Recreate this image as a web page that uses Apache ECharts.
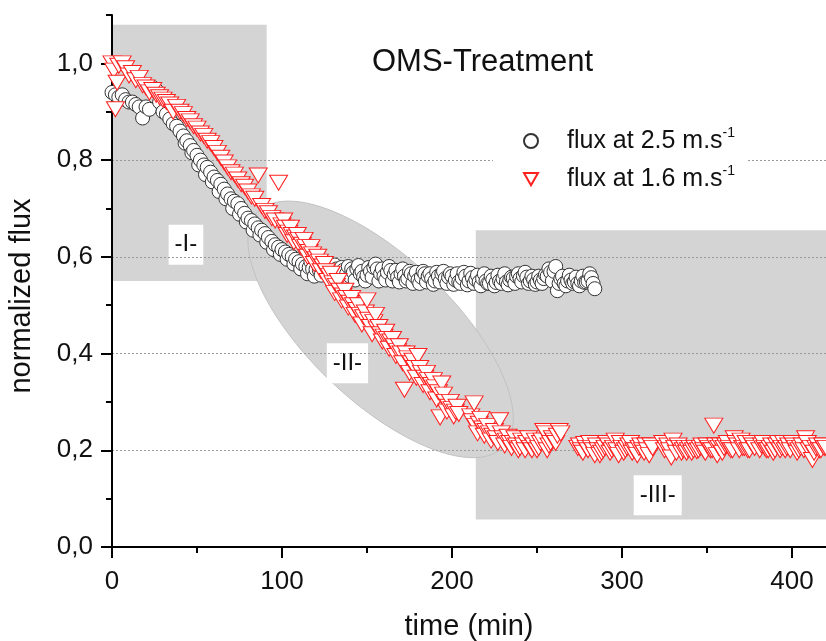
<!DOCTYPE html>
<html>
<head>
<meta charset="utf-8">
<title>OMS-Treatment</title>
<script src="https://cdn.jsdelivr.net/npm/echarts@6/dist/echarts.min.js"></script>
<style>
  html, body { margin: 0; padding: 0; background: #fff; }
  #chart { width: 826px; height: 641px; }
</style>
</head>
<body>
<div id="chart"></div>
<script>
const FONT = '"Liberation Sans", Arial, sans-serif';

// flux at 2.5 m/s : [time (min), normalized flux]
const flux25 = [
  [0, 0.94], [2, 0.935], [4, 0.93], [6, 0.935], [8, 0.925], [10, 0.92], [12, 0.92], [14, 0.915],
  [16, 0.91], [18, 0.887], [20, 0.91], [22, 0.905], [24, 0.95], [26, 0.945], [28, 0.92], [30, 0.9],
  [32, 0.895], [34, 0.885], [36, 0.875], [38, 0.87], [40, 0.86], [42, 0.85], [44, 0.84], [46, 0.83],
  [48, 0.82], [50, 0.81], [52, 0.8], [54, 0.79], [56, 0.785], [58, 0.775], [60, 0.765], [62, 0.758],
  [64, 0.75], [66, 0.74], [68, 0.73], [70, 0.72], [72, 0.715], [74, 0.71], [76, 0.7], [78, 0.69],
  [80, 0.68], [82, 0.675], [84, 0.668], [86, 0.66], [88, 0.655], [90, 0.648], [92, 0.64], [94, 0.632],
  [96, 0.625], [98, 0.62], [100, 0.615], [102, 0.61], [104, 0.605], [106, 0.6], [108, 0.595], [110, 0.59],
  [112, 0.585], [114, 0.58], [116, 0.578], [118, 0.575], [120, 0.574], [122, 0.572], [124, 0.58], [126, 0.57],
  [128, 0.565], [130, 0.57], [132, 0.575], [134, 0.568], [136, 0.572], [138, 0.565], [140, 0.56], [142, 0.568],
  [144, 0.575], [146, 0.565], [148, 0.558], [150, 0.562], [152, 0.57], [154, 0.578], [156, 0.575], [158, 0.565],
  [160, 0.56], [162, 0.568], [164, 0.572], [166, 0.563], [168, 0.558], [170, 0.565], [172, 0.56], [174, 0.555],
  [176, 0.565], [178, 0.56], [180, 0.552], [182, 0.558], [184, 0.565], [186, 0.56], [188, 0.555], [190, 0.55],
  [192, 0.56], [194, 0.565], [196, 0.555], [198, 0.558], [200, 0.56], [202, 0.552], [204, 0.548], [206, 0.556],
  [208, 0.56], [210, 0.55], [212, 0.557], [214, 0.553], [216, 0.548], [218, 0.555], [220, 0.55], [222, 0.545],
  [224, 0.553], [226, 0.547], [228, 0.55], [230, 0.555], [232, 0.548], [234, 0.552], [236, 0.556], [238, 0.56],
  [240, 0.555], [242, 0.561], [244, 0.558], [246, 0.55], [248, 0.553], [250, 0.548], [252, 0.552], [254, 0.555],
  [256, 0.56], [258, 0.568], [260, 0.57], [262, 0.53], [264, 0.555], [266, 0.545], [268, 0.55], [270, 0.552],
  [272, 0.548], [274, 0.545], [276, 0.55], [278, 0.547], [280, 0.55], [282, 0.557], [284, 0.534]
];
// the scatter around the trend (odd minutes)
const flux25Odd = [
  [43, 0.835], [47, 0.815], [51, 0.79], [55, 0.77], [59, 0.755], [63, 0.735], [67, 0.72], [71, 0.7],
  [75, 0.688], [79, 0.672], [83, 0.655], [87, 0.645], [91, 0.63], [95, 0.615], [99, 0.605], [103, 0.595],
  [107, 0.585], [111, 0.575], [115, 0.565], [117, 0.59], [119, 0.56], [121, 0.585], [123, 0.562], [125, 0.588],
  [127, 0.575], [129, 0.555], [131, 0.583], [133, 0.56], [135, 0.578], [137, 0.555], [139, 0.58], [141, 0.575],
  [143, 0.552], [145, 0.582], [147, 0.57], [149, 0.55], [151, 0.578], [153, 0.558], [155, 0.585], [157, 0.55],
  [159, 0.575], [161, 0.552], [163, 0.58], [165, 0.55], [167, 0.572], [169, 0.548], [171, 0.575], [173, 0.55],
  [175, 0.57], [177, 0.545], [179, 0.568], [181, 0.545], [183, 0.57], [185, 0.548], [187, 0.565], [189, 0.543],
  [191, 0.568], [193, 0.548], [195, 0.57], [197, 0.545], [199, 0.565], [201, 0.543], [203, 0.565], [205, 0.545],
  [207, 0.568], [209, 0.542], [211, 0.566], [213, 0.545], [215, 0.562], [217, 0.54], [219, 0.565], [221, 0.545],
  [223, 0.56], [225, 0.54], [227, 0.562], [229, 0.545], [231, 0.565], [233, 0.542], [235, 0.558], [237, 0.545],
  [239, 0.565], [241, 0.548], [243, 0.568], [245, 0.545], [247, 0.56], [249, 0.543], [251, 0.56], [253, 0.545],
  [255, 0.563], [257, 0.575], [259, 0.55], [261, 0.58], [263, 0.545], [265, 0.56], [267, 0.54], [269, 0.562],
  [271, 0.545], [273, 0.558], [275, 0.54], [277, 0.56], [279, 0.548], [281, 0.565], [283, 0.545]
];

// flux at 1.6 m/s : [time (min), normalized flux]
const flux16 = [
  [0, 1.0], [1, 0.985], [2, 0.905], [3, 0.96], [4, 0.995], [6, 1.0], [8, 0.99], [10, 0.975],
  [12, 0.98], [14, 0.965], [16, 0.97], [18, 0.955], [20, 0.95], [22, 0.94], [24, 0.945], [26, 0.935],
  [28, 0.93], [30, 0.925], [32, 0.92], [34, 0.915], [36, 0.9], [38, 0.91], [40, 0.9], [42, 0.895],
  [44, 0.885], [46, 0.88], [48, 0.87], [50, 0.865], [52, 0.855], [54, 0.85], [56, 0.84], [58, 0.835],
  [60, 0.825], [62, 0.815], [64, 0.805], [66, 0.795], [68, 0.785], [70, 0.775], [72, 0.77], [74, 0.76],
  [76, 0.75], [78, 0.745], [80, 0.735], [82, 0.725], [84, 0.72], [86, 0.768], [88, 0.705], [90, 0.695],
  [92, 0.69], [94, 0.68], [96, 0.675], [98, 0.753], [100, 0.665], [102, 0.66], [104, 0.65], [106, 0.645],
  [108, 0.64], [110, 0.635], [112, 0.625], [114, 0.62], [116, 0.61], [118, 0.605], [120, 0.595], [122, 0.59],
  [124, 0.58], [126, 0.57], [128, 0.56], [130, 0.545], [132, 0.54], [134, 0.53], [136, 0.52], [138, 0.515],
  [140, 0.505], [142, 0.5], [144, 0.49], [146, 0.48], [148, 0.475], [150, 0.51], [152, 0.455], [154, 0.465],
  [156, 0.45], [158, 0.44], [160, 0.435], [162, 0.43], [164, 0.425], [166, 0.415], [168, 0.405], [170, 0.4],
  [172, 0.325], [174, 0.39], [176, 0.38], [178, 0.37], [180, 0.395], [182, 0.36], [184, 0.35], [186, 0.345],
  [188, 0.335], [190, 0.33], [192, 0.32], [194, 0.338], [196, 0.3], [198, 0.29], [200, 0.285], [202, 0.28],
  [204, 0.275], [212, 0.26], [213, 0.297], [214, 0.25], [216, 0.255], [218, 0.245], [220, 0.24], [222, 0.235],
  [224, 0.23], [226, 0.225], [228, 0.262], [230, 0.225], [232, 0.22], [234, 0.215], [236, 0.215], [238, 0.21],
  [240, 0.205], [242, 0.21], [244, 0.215], [246, 0.205], [248, 0.21], [250, 0.2], [252, 0.215], [254, 0.24],
  [256, 0.2], [258, 0.215], [260, 0.22], [262, 0.23], [264, 0.235],
  [274, 0.205], [276, 0.2], [278, 0.213], [280, 0.2], [282, 0.205], [284, 0.19], [286, 0.2], [288, 0.195],
  [290, 0.205], [292, 0.21], [294, 0.2], [296, 0.22], [298, 0.19], [300, 0.205], [302, 0.2], [304, 0.21],
  [306, 0.195], [308, 0.2], [310, 0.205], [312, 0.2], [314, 0.21], [316, 0.19], [318, 0.205],
  [324, 0.215], [326, 0.205], [328, 0.2], [330, 0.22], [332, 0.195], [334, 0.205], [336, 0.2], [338, 0.195],
  [340, 0.205], [342, 0.2], [344, 0.198], [346, 0.205], [348, 0.2], [350, 0.21], [352, 0.2], [354, 0.251],
  [356, 0.19], [358, 0.21], [360, 0.205], [362, 0.215], [364, 0.2], [366, 0.225], [368, 0.21], [370, 0.22],
  [372, 0.205], [374, 0.2], [376, 0.215], [378, 0.205],
  [382, 0.21], [384, 0.205], [386, 0.2], [388, 0.21], [390, 0.2], [392, 0.215], [394, 0.205], [396, 0.2],
  [398, 0.21], [400, 0.215], [402, 0.205], [404, 0.2], [406, 0.21], [408, 0.225], [410, 0.2], [412, 0.18],
  [414, 0.205], [416, 0.2], [418, 0.21], [420, 0.205]
];
const flux16Odd = [
  [101, 0.675], [103, 0.645], [105, 0.66], [107, 0.63], [109, 0.645], [111, 0.62], [113, 0.635], [115, 0.6],
  [117, 0.62], [119, 0.585], [121, 0.6], [123, 0.57], [125, 0.585], [127, 0.55], [129, 0.565], [131, 0.525],
  [133, 0.55], [135, 0.51], [137, 0.53], [139, 0.495], [141, 0.515], [143, 0.48], [145, 0.5], [147, 0.46],
  [149, 0.485], [151, 0.47], [153, 0.44], [155, 0.48], [157, 0.455], [159, 0.425], [161, 0.445], [163, 0.41],
  [165, 0.43], [167, 0.395], [169, 0.415], [171, 0.38], [173, 0.4], [175, 0.36], [177, 0.385], [179, 0.35],
  [181, 0.37], [183, 0.335], [185, 0.36], [187, 0.32], [189, 0.345], [191, 0.305], [193, 0.268], [195, 0.315],
  [197, 0.28], [199, 0.3], [201, 0.27], [203, 0.29], [211, 0.27], [215, 0.235], [217, 0.265], [219, 0.23],
  [221, 0.25], [223, 0.22], [225, 0.24], [227, 0.215], [229, 0.235], [231, 0.21], [233, 0.228], [235, 0.205],
  [237, 0.225], [239, 0.2], [241, 0.22], [243, 0.2], [245, 0.225], [247, 0.2], [249, 0.22], [251, 0.205],
  [253, 0.22], [255, 0.235], [257, 0.21], [259, 0.225], [261, 0.215], [263, 0.24],
  [275, 0.21], [277, 0.195], [279, 0.205], [281, 0.215], [283, 0.2], [285, 0.21], [287, 0.19], [289, 0.2],
  [291, 0.215], [293, 0.195], [295, 0.205], [297, 0.2], [299, 0.215], [301, 0.195], [303, 0.205], [305, 0.215],
  [307, 0.2], [309, 0.19], [311, 0.21], [313, 0.195], [315, 0.2], [317, 0.21],
  [325, 0.2], [327, 0.21], [329, 0.185], [331, 0.205], [333, 0.21], [335, 0.195], [337, 0.205], [339, 0.2],
  [341, 0.195], [343, 0.205], [345, 0.2], [347, 0.21], [349, 0.195], [351, 0.205], [353, 0.2], [355, 0.21],
  [357, 0.205], [359, 0.195], [361, 0.21], [363, 0.205], [365, 0.2], [367, 0.215], [369, 0.2], [371, 0.205],
  [373, 0.215], [375, 0.2], [377, 0.21],
  [381, 0.2], [383, 0.215], [385, 0.2], [387, 0.205], [389, 0.195], [391, 0.21], [393, 0.2], [395, 0.215],
  [397, 0.205], [399, 0.2], [401, 0.21], [403, 0.195], [405, 0.205], [407, 0.2], [409, 0.215], [411, 0.205],
  [413, 0.195], [415, 0.21], [417, 0.2], [419, 0.205]
];

// axis ticks
const xMajor = [0, 100, 200, 300, 400];
const xMinor = [50, 150, 250, 350];
const yMajor = [0, 0.2, 0.4, 0.6, 0.8, 1.0];
const yMinor = [0.1, 0.3, 0.5, 0.7, 0.9, 1.1];

// shaded phases, in data units: [xFrom, yFrom, xTo, yTo]
const phaseI = [0, 0.55, 91, 1.08];
const phaseIII = [214, 0.057, 420, 0.655];
const phaseIICenter = [158, 0.45];
const phaseLabels = [['-I-', 43.5, 0.625], ['-II-', 138.5, 0.38], ['-III-', 321, 0.107]];

const GRAY = '#d4d4d4';
const TRI_DOWN = 'path://M0,0 L16,0 L8,14 Z';

function byTime(a, b) { return a[0] - b[0]; }

function renderPhases(params, api) {
  const children = [];
  [phaseI, phaseIII].forEach(function (b) {
    const p0 = api.coord([b[0], b[3]]);
    const p1 = api.coord([b[2], b[1]]);
    children.push({
      type: 'rect',
      shape: { x: p0[0], y: p0[1], width: p1[0] - p0[0], height: p1[1] - p0[1] },
      style: { fill: GRAY }
    });
  });
  // tilted ellipse for phase II
  const c = api.coord(phaseIICenter);
  const ra = 170, rb = 72, th = 43.6 * Math.PI / 180;
  const pts = [];
  for (let k = 0; k < 96; k++) {
    const f = 2 * Math.PI * k / 96;
    pts.push([
      c[0] + ra * Math.cos(f) * Math.cos(th) - rb * Math.sin(f) * Math.sin(th),
      c[1] + ra * Math.cos(f) * Math.sin(th) + rb * Math.sin(f) * Math.cos(th)
    ]);
  }
  children.push({
    type: 'polygon',
    shape: { points: pts },
    style: { fill: GRAY, stroke: '#c2c2c2', lineWidth: 1 }
  });
  phaseLabels.forEach(function (l) {
    const p = api.coord([l[1], l[2]]);
    children.push({
      type: 'text',
      x: p[0], y: p[1],
      style: {
        text: l[0], fontSize: 24, fontFamily: FONT, fill: '#111',
        align: 'center', verticalAlign: 'middle',
        backgroundColor: '#fff', padding: [8, 6]
      }
    });
  });
  return { type: 'group', children: children };
}

const tickLine = { color: '#000', width: 2 };
const labelStyle = { fontSize: 26, color: '#111', fontFamily: FONT };

const chart = echarts.init(document.getElementById('chart'));

const option = {
  animation: false,
  backgroundColor: '#fff',
  title: {
    text: 'OMS-Treatment',
    left: 357,
    top: 44,
    backgroundColor: '#fff',
    padding: [3, 14, 3, 15],
    textStyle: { fontSize: 31, fontWeight: 'normal', color: '#111', fontFamily: FONT }
  },
  legend: {
    orient: 'vertical',
    left: 493,
    top: 118,
    padding: [8, 12, 8, 30],
    backgroundColor: '#fff',
    itemWidth: 14,
    itemHeight: 14,
    itemGap: 10,
    selectedMode: false,
    data: ['flux at 2.5 m.s', 'flux at 1.6 m.s'],
    formatter: function (name) {
      return '{g|}{t|' + name + '}{s|-1}';
    },
    textStyle: {
      fontFamily: FONT,
      rich: {
        g: { width: 24 },
        t: { fontSize: 25, lineHeight: 30, color: '#111', fontFamily: FONT },
        s: { fontSize: 14, lineHeight: 30, color: '#111', fontFamily: FONT, verticalAlign: 'top', padding: [0, 0, 14, 0] }
      }
    }
  },
  grid: { left: 112, right: 0, top: 15, bottom: 94, containLabel: false, outerBoundsMode: 'none' },
  xAxis: [
    {
      type: 'value',
      min: 0,
      max: 420,
      interval: 100,
      z: 1,
      name: 'time (min)',
      nameLocation: 'middle',
      nameGap: 65,
      nameTextStyle: { fontSize: 29, color: '#111', fontFamily: FONT },
      axisLine: { lineStyle: tickLine },
      axisTick: { length: 11, lineStyle: tickLine, customValues: xMajor },
      axisLabel: Object.assign({ margin: 22, customValues: xMajor }, labelStyle),
      splitLine: { show: false }
    },
    {
      // minor ticks only
      type: 'value',
      min: 0,
      max: 420,
      position: 'bottom',
      z: 1,
      axisLine: { show: false },
      axisTick: { show: true, length: 6, lineStyle: tickLine, customValues: xMinor },
      axisLabel: { show: false },
      splitLine: { show: false }
    }
  ],
  yAxis: [
    {
      type: 'value',
      min: 0,
      max: 1.1,
      interval: 0.2,
      z: 1,
      name: 'normalized flux',
      nameLocation: 'middle',
      nameGap: 76,
      nameTextStyle: { fontSize: 29, color: '#111', fontFamily: FONT, padding: [0, 30, 0, 0] },
      axisLine: { show: true, lineStyle: tickLine },
      axisTick: { show: true, length: 11, lineStyle: tickLine, customValues: yMajor },
      axisLabel: Object.assign({
        margin: 19, customValues: yMajor,
        formatter: function (v) { return v.toFixed(1).replace('.', ','); }
      }, labelStyle),
      splitLine: { show: true, showMaxLine: false, lineStyle: { type: [2, 2], color: '#9a9a9a', width: 1 } }
    },
    {
      // minor ticks only
      type: 'value',
      min: 0,
      max: 1.1,
      position: 'left',
      z: 1,
      axisLine: { show: false },
      axisTick: { show: true, length: 6, lineStyle: tickLine, customValues: yMinor },
      axisLabel: { show: false },
      splitLine: { show: false }
    }
  ],
  series: [
    {
      type: 'custom',
      name: 'phases',
      z: 0,
      silent: true,
      renderItem: renderPhases,
      data: [[0, 0]]
    },
    {
      type: 'scatter',
      name: 'flux at 2.5 m.s',
      z: 3,
      symbol: 'circle',
      symbolSize: 14,
      itemStyle: { color: '#fff', borderColor: '#333', borderWidth: 1, opacity: 1 },
      emphasis: { disabled: true },
      data: flux25.concat(flux25Odd).sort(byTime)
    },
    {
      type: 'scatter',
      name: 'flux at 1.6 m.s',
      z: 4,
      symbol: TRI_DOWN,
      symbolSize: [18, 15],
      itemStyle: { color: '#fff', borderColor: '#ff1f1f', borderWidth: 1, opacity: 1 },
      emphasis: { disabled: true },
      data: flux16.concat(flux16Odd).sort(byTime)
    }
  ]
};

chart.setOption(option);
</script>
</body>
</html>
